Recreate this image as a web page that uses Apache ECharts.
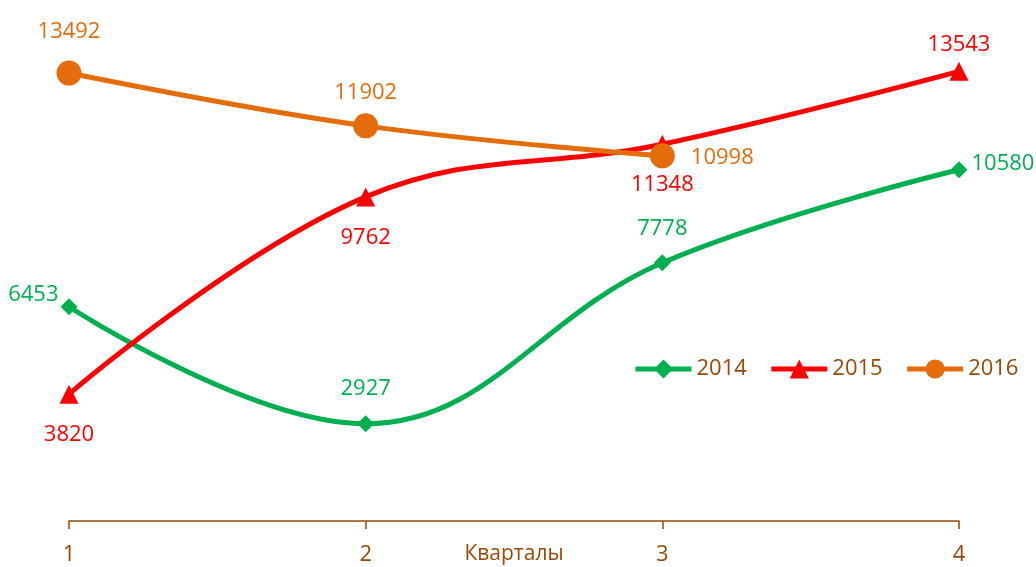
<!DOCTYPE html>
<html>
<head>
<meta charset="utf-8">
<script src="https://cdn.jsdelivr.net/npm/echarts@6/dist/echarts.min.js"></script>
<style>
  html, body { margin: 0; padding: 0; background: #fff; }
  #chart { width: 1036px; height: 567px; }
</style>
</head>
<body>
<div id="chart"></div>
<script>
// кварталы
const quarters = ['1', '2', '3', '4'];
const series2014 = [6453, 2927, 7778, 10580];
const series2015 = [3820, 9762, 11348, 13543];
const series2016 = [13492, 11902, 10998];

const pos2014 = ['left', 'top', 'top', 'right'];
const pos2015 = ['bottom', 'bottom', 'bottom', 'top'];
const pos2016 = ['top', 'top', 'right'];

const brown = '#984807';
const font = 'Open Sans, sans-serif';

function withPos(values, positions, offsets) {
  return values.map((v, i) => ({
    value: v,
    label: { position: positions[i], offset: offsets ? offsets[i] : [0, 0] }
  }));
}

function lineSeries(name, color, symbol, size, data) {
  return {
    name: name,
    type: 'line',
    smooth: 0.4,
    symbol: symbol,
    symbolSize: size,
    data: data,
    lineStyle: { color: color, width: 5 },
    itemStyle: { color: color },
    label: {
      show: true,
      color: color,
      fontFamily: font,
      fontSize: 22,
      distance: 10
    }
  };
}

const chart = echarts.init(document.getElementById('chart'));
chart.setOption({
  animation: false,
  grid: { left: 69, right: 77, top: 23, bottom: 46, outerBoundsMode: 'none', containLabel: false },
  legend: {
    left: 628,
    top: 353,
    itemGap: 22,
    itemWidth: 56,
    itemHeight: 24,
    lineStyle: { width: 5 },
    textStyle: { color: brown, fontFamily: font, fontSize: 22 },
    data: ['2014', '2015', '2016']
  },
  xAxis: {
    type: 'category',
    boundaryGap: false,
    data: quarters,
    name: 'Кварталы',
    nameLocation: 'middle',
    nameGap: 23,
    nameMoveOverlap: false,
    nameTextStyle: { color: brown, fontFamily: font, fontSize: 21 },
    axisLine: { lineStyle: { color: brown, width: 1.5 } },
    axisTick: { show: true, length: 8, lineStyle: { color: brown, width: 1.5 } },
    axisLabel: { color: brown, fontFamily: font, fontSize: 22, margin: 23 }
  },
  yAxis: {
    type: 'value',
    min: 0,
    max: 15000,
    show: false,
    splitLine: { show: false }
  },
  series: [
    lineSeries('2014', '#00B050', 'diamond', 17,
      withPos(series2014, pos2014, [[8, -12], [0, -6], [0, -5], [-6, -6]])),
    lineSeries('2015', '#FF0000', 'triangle', 19,
      withPos(series2015, pos2015, [[0, 10], [0, 10], [0, 10], [0, 4]])),
    lineSeries('2016', '#E46C0A', 'circle', 25,
      withPos(series2016, pos2016, [[0, -8], [0, 0], [6, 2]]))
  ]
});
</script>
</body>
</html>
